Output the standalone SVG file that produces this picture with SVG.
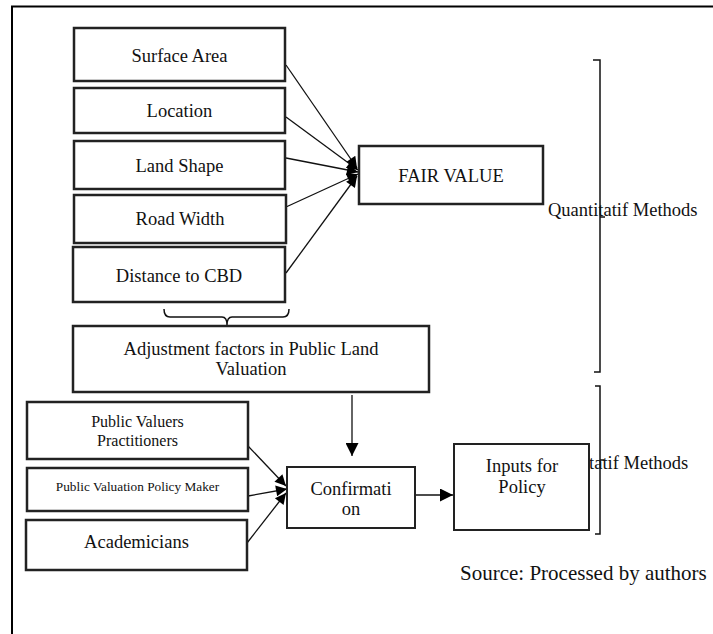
<svg xmlns="http://www.w3.org/2000/svg" width="713" height="634" viewBox="0 0 713 634">
<defs>
<style>
text{font-family:"Liberation Serif","Times New Roman",serif;fill:#111;}
.box{fill:#fff;stroke:#222;stroke-width:2.5;}
.t{font-size:18.5px;text-anchor:middle;}
.ln{stroke:#111;stroke-width:1.3;fill:none;}
.br{stroke:#111;stroke-width:1.5;fill:none;}
</style>
<marker id="ah" viewBox="0 0 10 10" refX="10" refY="5" markerWidth="15" markerHeight="11" markerUnits="userSpaceOnUse" orient="auto"><path d="M0,0 L10,5 L0,10 z" fill="#000"/></marker>
<marker id="ahb" viewBox="0 0 10 10" refX="10" refY="5" markerWidth="16" markerHeight="13" markerUnits="userSpaceOnUse" orient="auto"><path d="M0,0 L10,5 L0,10 z" fill="#000"/></marker>
</defs>
<rect width="713" height="634" fill="#fff"/>
<rect x="12" y="6.5" width="720" height="660" fill="none" stroke="#000" stroke-width="2"/>

<g id="brackets">
<path class="br" d="M593,60 L600,60 L600,372 L594,372 M600,217 L605,217"/>
<path class="br" d="M595,386 L600,386 L600,534 L595,534 M600,460 L604,460"/>
<path class="br" d="M164,309 Q164,317 170,317 L222,317 Q227,317 227,325 Q227,317 232,317 L283,317 Q289,317 289,309"/>
<text x="548" y="216" style="font-size:18.5px">Quantitatif Methods</text>
<text x="548" y="469" style="font-size:18.5px">Qualitatif Methods</text>
</g>

<g id="connectors">
<line class="ln" x1="286" y1="65" x2="357" y2="168" marker-end="url(#ah)"/>
<line class="ln" x1="286" y1="117" x2="358" y2="170" marker-end="url(#ah)"/>
<line class="ln" x1="286" y1="158" x2="358" y2="172" marker-end="url(#ah)"/>
<line class="ln" x1="286" y1="207" x2="358" y2="174" marker-end="url(#ah)"/>
<line class="ln" x1="286" y1="273" x2="357" y2="176" marker-end="url(#ah)"/>
<line class="ln" x1="248" y1="446" x2="286" y2="486" marker-end="url(#ah)"/>
<line class="ln" x1="248" y1="496" x2="287" y2="489" marker-end="url(#ah)"/>
<line class="ln" x1="247" y1="543" x2="286" y2="493" marker-end="url(#ah)"/>
<line class="ln" x1="352" y1="395" x2="352" y2="456" marker-end="url(#ahb)"/>
<line class="ln" x1="415" y1="495" x2="453" y2="495" marker-end="url(#ahb)"/>
</g>

<g id="surface-area"><rect class="box" x="74" y="28" width="211" height="53"/><text class="t" x="179.5" y="62">Surface Area</text></g>
<g id="location"><rect class="box" x="74" y="88" width="211" height="45"/><text class="t" x="179.5" y="117">Location</text></g>
<g id="land-shape"><rect class="box" x="74" y="141" width="211" height="48"/><text class="t" x="179.5" y="172">Land Shape</text></g>
<g id="road-width"><rect class="box" x="74" y="195" width="212" height="48"/><text class="t" x="180" y="225">Road Width</text></g>
<g id="distance-cbd"><rect class="box" x="73" y="247" width="212" height="55"/><text class="t" x="179" y="282">Distance to CBD</text></g>
<g id="fair-value"><rect class="box" x="359" y="146" width="184" height="58"/><text class="t" x="451" y="182">FAIR VALUE</text></g>
<g id="adjustment"><rect class="box" x="73" y="326" width="356" height="66"/><text class="t" x="251" y="355">Adjustment factors in Public Land</text><text class="t" x="251" y="375">Valuation</text></g>
<g id="public-valuers"><rect class="box" x="27" y="402" width="221" height="57"/><text class="t" x="137.5" y="427" style="font-size:16px">Public Valuers</text><text class="t" x="137.5" y="446" style="font-size:16px">Practitioners</text></g>
<g id="policy-maker"><rect class="box" x="27" y="468" width="221" height="43"/><text class="t" x="137.5" y="491" style="font-size:13.3px">Public Valuation Policy Maker</text></g>
<g id="academicians"><rect class="box" x="26" y="520" width="221" height="50"/><text class="t" x="136.5" y="548">Academicians</text></g>
<g id="confirmation"><rect class="box" x="287" y="467" width="128" height="61" style="stroke-width:2"/><text class="t" x="351" y="495">Confirmati</text><text class="t" x="351" y="515">on</text></g>
<g id="inputs-policy"><rect class="box" x="454" y="444" width="135" height="86" style="stroke-width:2"/><text class="t" x="522" y="472">Inputs for</text><text class="t" x="522" y="493">Policy</text></g>

<text x="460" y="580" style="font-size:21px">Source: Processed by authors</text>
</svg>
